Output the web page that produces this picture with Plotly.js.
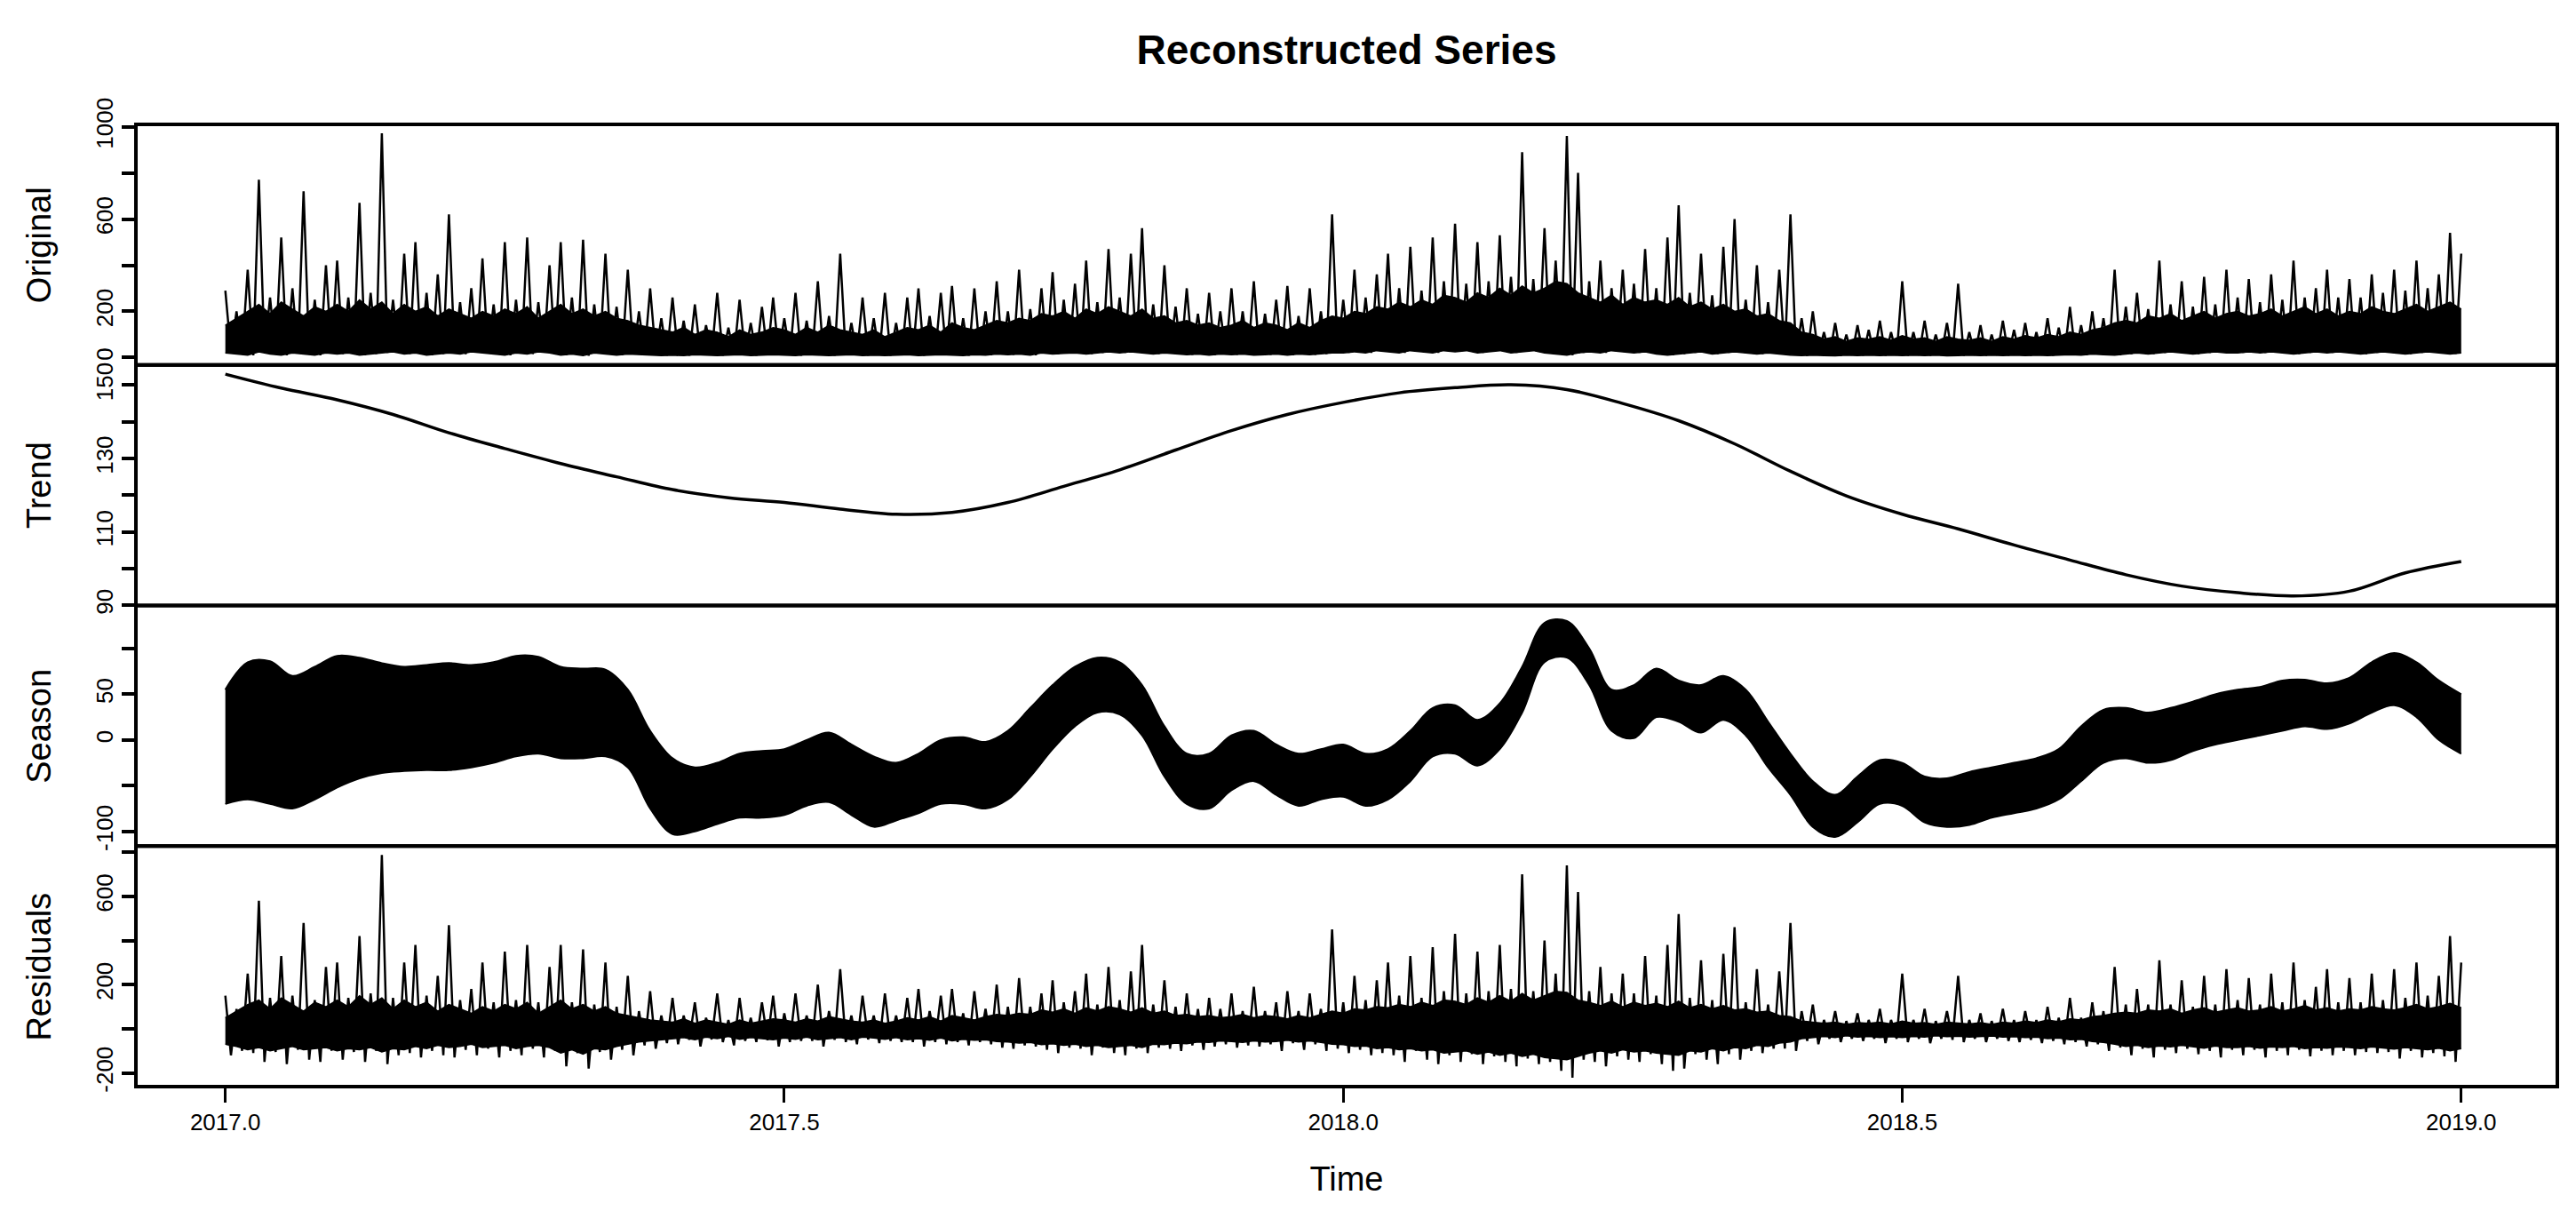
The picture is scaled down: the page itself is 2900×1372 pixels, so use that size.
<!DOCTYPE html>
<html>
<head>
<meta charset="utf-8">
<script src="https://cdn.plot.ly/plotly-3.0.1.min.js"></script>
<style>html,body{margin:0;padding:0;background:#fff;}#chart{width:2900px;height:1372px;}</style>
</head>
<body>
<div id="chart"></div>
<script>
// ---- time axis ----
var startYear = 2017.0;
var fineStep = 0.01;   // step for Original / Residuals envelopes
var coarseStep = 0.02; // step for Season envelopes
var trendStep = 0.05;  // step for Trend

// ---- Original series ----
// spike tops
var origHi = [
290,200,380,770,260,520,300,720,250,400,
420,260,670,280,971,250,450,500,280,360,
620,240,300,430,230,500,250,520,240,400,
500,260,510,230,450,220,380,200,300,170,
260,160,230,140,280,130,250,150,220,260,
170,280,160,330,180,450,150,260,170,280,
150,260,300,180,280,310,170,300,200,330,
200,380,210,300,370,250,320,420,240,470,
260,450,560,230,400,220,300,190,280,200,
300,200,330,190,250,310,180,300,200,620,
250,380,260,360,450,300,480,290,520,330,
580,320,500,330,530,350,890,340,560,420,
960,800,330,420,300,380,320,470,300,520,
660,280,450,270,480,600,250,400,240,380,
620,170,200,110,150,100,140,120,160,110,
330,110,160,100,150,320,110,140,100,160,
120,150,110,170,130,220,140,200,170,380,
220,280,210,420,230,330,220,350,230,380,
260,340,240,360,250,420,260,300,380,260,
340,260,360,280,380,290,420,300,360,540,
450];
// troughs
var origLo = [
20,15,10,25,15,10,20,15,10,20,
15,20,10,15,20,25,15,20,10,15,
20,15,25,20,15,10,20,15,25,20,
10,15,8,20,15,10,15,12,10,8,
10,8,12,10,8,10,12,8,10,12,
10,8,12,10,8,10,12,8,10,8,
10,12,8,10,12,10,8,12,10,15,
12,15,10,20,15,18,20,15,20,25,
20,25,20,15,20,15,12,15,10,15,
12,15,10,12,15,10,15,12,15,20,
20,25,20,30,25,20,30,25,20,30,
25,30,20,25,30,20,25,30,20,15,
10,20,25,20,30,25,20,25,15,10,
15,20,25,15,20,25,20,15,20,15,
10,8,10,8,7,10,8,10,8,10,
8,10,8,10,7,8,10,8,10,8,
10,8,10,8,10,12,10,15,12,10,
15,20,15,20,25,20,15,20,25,20,
20,25,20,25,20,15,20,25,20,25,
20,15,20,25,20,15,20,25,20,15,
20];
// top of the dense black core
var origCore = [
140,170,200,230,190,240,210,180,220,200,
230,200,250,210,240,190,230,200,220,180,
210,190,170,200,180,210,190,220,170,200,
230,190,210,180,200,170,160,140,130,120,
110,130,100,120,110,90,120,100,110,130,
120,100,130,110,140,120,110,100,120,90,
110,130,120,140,110,150,130,120,140,160,
150,170,160,190,180,200,170,210,190,220,
200,180,210,170,180,150,160,140,150,130,
140,160,130,150,140,120,150,130,160,180,
170,200,190,220,210,240,220,250,230,270,
260,240,280,260,300,270,310,280,300,330,
320,280,260,240,270,230,260,240,250,230,
260,220,240,210,230,200,210,180,190,160,
150,110,100,80,90,70,85,80,90,75,
95,80,85,70,90,80,75,85,70,90,
80,95,85,100,90,110,100,120,130,150,
160,150,180,170,190,160,180,200,170,190,
200,180,190,210,180,200,220,190,210,180,
200,190,220,200,190,210,230,200,220,240,
210];

// ---- Trend ----
var trendVals = [
153.0,149.2,146.0,142.0,137.0,132.7,128.6,125.0,121.5,119.3,
118.0,116.2,114.8,115.3,118.0,122.4,126.9,132.3,137.6,142.0,
145.3,147.9,149.3,150.1,148.8,145.0,140.3,134.0,126.5,119.8,
114.8,110.8,106.4,102.3,98.3,95.2,93.4,92.5,93.8,98.8,
101.9];

// ---- Season (upper and lower envelope of the daily oscillation) ----
var seasonHi = [
55,85,86,70,80,92,90,84,80,82,
84,82,85,92,91,80,78,77,55,10,
-20,-30,-25,-15,-12,-10,0,8,-5,-18,
-25,-15,0,3,-2,10,35,60,80,90,
85,60,15,-15,-15,5,10,-5,-15,-10,
-5,-15,-10,10,35,38,22,40,80,128,
130,100,55,60,78,65,60,70,55,20,
-15,-45,-60,-40,-22,-25,-40,-42,-35,-30,
-25,-20,-10,15,33,35,30,35,42,50,
55,58,65,66,62,68,85,95,85,65,
50];
var seasonLo = [
-70,-65,-70,-75,-65,-52,-42,-36,-34,-33,
-33,-30,-25,-18,-15,-20,-20,-18,-30,-75,
-103,-100,-92,-85,-85,-82,-72,-68,-82,-95,
-88,-80,-70,-70,-75,-65,-40,-10,15,30,
28,5,-40,-70,-75,-55,-45,-60,-72,-65,
-62,-72,-65,-45,-18,-15,-28,-10,30,85,
90,60,10,2,25,20,8,22,5,-30,
-60,-95,-106,-90,-70,-72,-90,-95,-93,-85,
-80,-75,-65,-45,-25,-20,-25,-22,-12,-5,
0,5,10,15,12,18,30,38,25,0,
-15];

// ---- Residuals ----
var residHi = [
150,90,250,580,140,330,150,480,130,280,
300,140,420,160,788,140,300,380,150,240,
470,130,180,300,120,350,130,380,120,280,
380,120,360,110,300,100,240,80,170,60,
140,60,120,50,160,40,140,50,120,150,
70,160,60,200,80,270,60,150,60,160,
60,140,180,80,150,180,70,170,90,200,
100,230,100,160,220,120,170,250,110,280,
130,260,380,110,220,100,160,90,140,90,
160,80,190,80,120,170,80,160,90,450,
120,240,130,220,300,150,330,140,370,170,
430,160,350,170,380,180,700,170,400,250,
740,620,170,280,160,250,160,330,150,380,
520,140,310,130,340,460,120,270,110,260,
480,80,110,40,80,35,70,40,90,40,
250,40,90,35,80,240,40,70,35,90,
40,80,40,100,50,140,50,120,80,280,
110,180,110,310,110,220,100,240,110,270,
130,230,110,250,120,300,130,190,270,120,
230,120,250,130,270,140,300,150,240,420,
300];
var residLo = [
-120,-100,-110,-150,-105,-160,-95,-140,-150,-100,
-140,-105,-150,-100,-160,-120,-110,-130,-100,-120,
-130,-95,-120,-90,-130,-100,-120,-90,-130,-100,
-170,-110,-180,-105,-140,-95,-120,-75,-90,-65,
-70,-50,-80,-48,-60,-75,-55,-60,-52,-80,
-60,-55,-55,-80,-50,-60,-70,-48,-65,-55,
-60,-60,-80,-60,-70,-60,-75,-60,-70,-85,
-90,-75,-80,-95,-110,-85,-90,-120,-85,-110,
-120,-90,-110,-85,-90,-100,-75,-95,-80,-70,
-85,-75,-80,-70,-100,-65,-95,-70,-100,-90,
-110,-95,-120,-110,-120,-150,-100,-140,-160,-120,
-150,-115,-160,-125,-150,-170,-135,-160,-150,-190,
-222,-140,-150,-170,-125,-140,-150,-115,-160,-190,
-180,-115,-140,-160,-115,-140,-100,-110,-90,-90,
-100,-55,-70,-45,-60,-45,-55,-45,-65,-45,
-60,-45,-65,-45,-50,-60,-45,-60,-45,-55,
-60,-50,-65,-55,-70,-60,-80,-70,-100,-85,
-120,-90,-130,-95,-110,-90,-115,-100,-130,-95,
-120,-95,-130,-100,-120,-95,-125,-100,-120,-100,
-120,-105,-110,-105,-135,-100,-130,-110,-125,-150,
-130];
// dense core of the residuals
var residCoreHi = [
50,80,110,130,90,140,110,80,120,100,
130,100,150,110,140,90,130,100,120,80,
110,90,70,100,80,110,90,120,70,100,
130,90,110,80,100,70,60,50,40,35,
30,45,25,40,30,20,40,25,35,45,
40,30,45,35,55,45,35,30,40,25,
35,50,40,55,35,60,50,40,55,65,
60,70,65,85,75,90,70,95,80,100,
90,75,95,70,80,60,65,55,60,50,
55,65,50,60,55,45,60,50,65,80,
70,90,85,100,95,110,100,120,105,130,
125,110,140,120,150,125,160,130,150,170,
165,130,120,105,125,100,120,105,115,100,
125,95,110,90,105,85,90,75,80,60,
55,35,30,25,30,20,28,25,30,22,
35,25,28,20,30,25,22,28,20,30,
25,35,28,40,32,45,40,55,60,70,
75,70,85,80,90,70,85,95,75,85,
95,80,85,100,80,90,105,85,95,80,
90,85,100,90,85,95,110,90,100,115,
95];
var residCoreLo = [
-70,-80,-95,-85,-100,-90,-80,-95,-90,-85,
-100,-90,-95,-85,-105,-90,-95,-80,-90,-75,
-85,-80,-70,-85,-80,-75,-90,-80,-75,-85,
-110,-95,-115,-90,-95,-80,-70,-60,-55,-50,
-45,-40,-50,-38,-45,-35,-48,-40,-45,-50,
-42,-48,-38,-50,-45,-40,-50,-38,-42,-48,
-40,-50,-45,-52,-42,-55,-48,-52,-50,-58,
-60,-65,-62,-72,-68,-75,-70,-80,-75,-85,
-80,-75,-85,-70,-72,-65,-68,-60,-62,-55,
-58,-62,-55,-60,-58,-52,-60,-55,-62,-70,
-72,-80,-78,-90,-85,-95,-90,-100,-95,-110,
-105,-100,-115,-105,-120,-110,-125,-115,-130,-135,
-140,-125,-110,-100,-110,-95,-105,-100,-110,-115,
-120,-100,-105,-90,-100,-85,-90,-75,-80,-65,
-60,-45,-40,-35,-40,-32,-38,-35,-40,-36,
-40,-35,-38,-32,-36,-34,-38,-35,-33,-38,
-36,-40,-38,-45,-42,-50,-48,-58,-62,-70,
-80,-75,-85,-78,-82,-75,-80,-88,-78,-85,
-85,-80,-88,-82,-85,-80,-90,-85,-88,-82,
-85,-90,-82,-88,-92,-85,-90,-95,-88,-100,
-90];

// ---- tick labels ----
var xTickVals = [2017.0, 2017.5, 2018.0, 2018.5, 2019.0];
var xTickText = ['2017.0', '2017.5', '2018.0', '2018.5', '2019.0'];
var origTickVals = [0, 200, 400, 600, 800, 1000];
var origTickText = ['0', '200', '', '600', '', '1000'];
var trendTickVals = [90, 100, 110, 120, 130, 140, 150];
var trendTickText = ['90', '', '110', '', '130', '', '150'];
var seasonTickVals = [-100, -50, 0, 50, 100];
var seasonTickText = ['-100', '', '0', '50', ''];
var residTickVals = [-200, 0, 200, 400, 600, 800];
var residTickText = ['-200', '', '200', '', '600', ''];
var panelNames = ['Original', 'Trend', 'Season', 'Residuals'];

// ---- helpers ----
function yearsFor(n, step) {
  var out = [];
  for (var i = 0; i < n; i++) out.push(+(startYear + i * step).toFixed(4));
  return out;
}
// interleave spike tops and troughs into one dense line
function zigzag(hi, lo, step) {
  var xs = [], ys = [];
  for (var i = 0; i < hi.length; i++) {
    xs.push(startYear + i * step); ys.push(hi[i]);
    if (i < hi.length - 1) { xs.push(startYear + (i + 0.5) * step); ys.push(lo[i]); }
  }
  return {x: xs, y: ys};
}

var orig = zigzag(origHi, origLo, fineStep);
var resid = zigzag(residHi, residLo, fineStep);
var fineX = yearsFor(origLo.length, fineStep);
var coarseX = yearsFor(seasonHi.length, coarseStep);
var trendX = yearsFor(trendVals.length, trendStep);

var black = '#000000';
var traces = [
  // Original: dense core band then spikes
  {x: fineX, y: origLo, type: 'scatter', mode: 'lines', xaxis: 'x', yaxis: 'y',
   line: {color: black, width: 1.5}, hoverinfo: 'skip'},
  {x: fineX, y: origCore, type: 'scatter', mode: 'lines', xaxis: 'x', yaxis: 'y',
   fill: 'tonexty', fillcolor: black, line: {color: black, width: 1.5}, hoverinfo: 'skip'},
  {x: orig.x, y: orig.y, type: 'scatter', mode: 'lines', xaxis: 'x', yaxis: 'y',
   line: {color: black, width: 2.5}, hoverinfo: 'skip', name: 'Original'},
  // Trend
  {x: trendX, y: trendVals, type: 'scatter', mode: 'lines', xaxis: 'x', yaxis: 'y2',
   line: {color: black, width: 3.5, shape: 'spline'}, name: 'Trend'},
  // Season band
  {x: coarseX, y: seasonLo, type: 'scatter', mode: 'lines', xaxis: 'x', yaxis: 'y3',
   line: {color: black, width: 2, shape: 'spline'}, name: 'Season low'},
  {x: coarseX, y: seasonHi, type: 'scatter', mode: 'lines', xaxis: 'x', yaxis: 'y3',
   fill: 'tonexty', fillcolor: black,
   line: {color: black, width: 2, shape: 'spline'}, name: 'Season'},
  // Residuals: dense core band then spikes
  {x: fineX, y: residCoreLo, type: 'scatter', mode: 'lines', xaxis: 'x', yaxis: 'y4',
   line: {color: black, width: 1.5}, hoverinfo: 'skip'},
  {x: fineX, y: residCoreHi, type: 'scatter', mode: 'lines', xaxis: 'x', yaxis: 'y4',
   fill: 'tonexty', fillcolor: black, line: {color: black, width: 1.5}, hoverinfo: 'skip'},
  {x: resid.x, y: resid.y, type: 'scatter', mode: 'lines', xaxis: 'x', yaxis: 'y4',
   line: {color: black, width: 2.5}, hoverinfo: 'skip', name: 'Residuals'}
];

var fontFam = '"Liberation Sans", Arial, Helvetica, sans-serif';
function yAx(domain, range, tv, tt) {
  return {
    domain: domain, range: range, anchor: 'x',
    tickmode: 'array', tickvals: tv, ticktext: tt,
    ticks: 'outside', ticklen: 15, tickwidth: 4, tickcolor: black,
    tickangle: -90, tickfont: {size: 26, color: black, family: fontFam},
    showgrid: false, zeroline: false, showline: false
  };
}

var panelDomains = [[0.75, 1], [0.5, 0.75], [0.25, 0.5], [0, 0.25]];
var shapes = panelDomains.map(function (d) {
  return {type: 'rect', xref: 'paper', yref: 'paper', x0: 0, x1: 1, y0: d[0], y1: d[1],
          line: {color: black, width: 4}, fillcolor: 'rgba(0,0,0,0)'};
});
var annotations = panelNames.map(function (name, i) {
  var d = panelDomains[i];
  return {text: name, xref: 'paper', yref: 'paper', x: -0.040, y: (d[0] + d[1]) / 2,
          xanchor: 'center', yanchor: 'middle', textangle: -90, showarrow: false,
          font: {size: 38, color: black, family: fontFam}};
});

var layout = {
  width: 2900, height: 1372,
  paper_bgcolor: '#ffffff', plot_bgcolor: '#ffffff',
  margin: {l: 153, r: 21, t: 140, b: 149},
  showlegend: false,
  font: {family: fontFam, color: black},
  title: {text: '<b>Reconstructed Series</b>', xref: 'paper', x: 0.5, xanchor: 'center',
          yref: 'container', y: 1 - 56 / 1372, yanchor: 'middle',
          font: {size: 46, color: black, family: fontFam}},
  xaxis: {
    range: [2016.92, 2019.086], anchor: 'y4',
    tickmode: 'array', tickvals: xTickVals, ticktext: xTickText,
    ticks: 'outside', ticklen: 17, tickwidth: 3, tickcolor: black,
    tickfont: {size: 26, color: black, family: fontFam},
    showgrid: false, zeroline: false, showline: false,
    title: {text: 'Time', font: {size: 38, color: black, family: fontFam}, standoff: 36}
  },
  yaxis: yAx(panelDomains[0], [-32, 1010], origTickVals, origTickText),
  yaxis2: yAx(panelDomains[1], [89.9, 155.5], trendTickVals, trendTickText),
  yaxis3: yAx(panelDomains[2], [-116, 147], seasonTickVals, seasonTickText),
  yaxis4: yAx(panelDomains[3], [-262, 828], residTickVals, residTickText),
  shapes: shapes,
  annotations: annotations
};

Plotly.newPlot('chart', traces, layout, {staticPlot: true, displayModeBar: false});
</script>
</body>
</html>
